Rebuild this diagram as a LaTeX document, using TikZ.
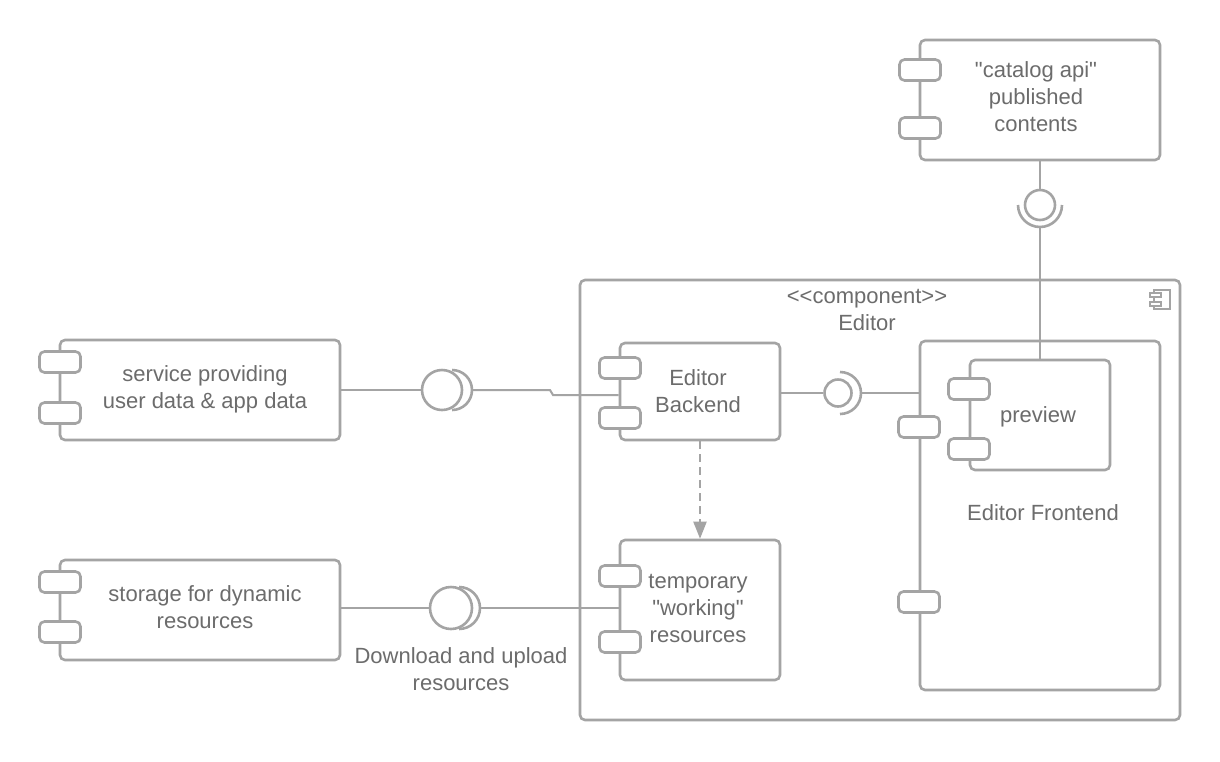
\documentclass[tikz,border=0pt]{standalone}
\usepackage{fontspec}
\setmainfont{Liberation Sans}[Ligatures=TeXOff]
\usetikzlibrary{arrows.meta}
\definecolor{lc}{RGB}{164,164,164}
\definecolor{tc}{RGB}{108,108,108}
\tikzset{
  comp/.style={draw=lc, line width=2.6pt, rounded corners=5pt, fill=white, inner sep=0pt},
  lug/.style={draw=lc, line width=2.6pt, rounded corners=5pt, fill=white, minimum width=41pt, minimum height=21pt, inner sep=0pt},
  txt/.style={text=tc, font=\fontsize{22pt}{27pt}\selectfont, align=center, inner sep=0pt},
  conn/.style={draw=lc, line width=2pt},
  ball/.style={circle, draw=lc, line width=2.6pt, fill=white, inner sep=0pt},
  sock/.style={draw=lc, line width=2.6pt},
}
\begin{document}
\begin{tikzpicture}[x=1pt,y=-1pt]
\useasboundingbox[fill=white] (0,0) rectangle (1220,761);

% Editor container
\node[comp, minimum width=600pt, minimum height=440pt] (ed) at (880,500) {};
\node[txt] (edt) at (867,310) {<<component>>\\Editor};
% component icon
\node[draw=lc, line width=1.2pt, minimum width=16pt, minimum height=19pt, inner sep=0pt] (ico) at (1162,299.5) {};
\node[draw=lc, line width=1.2pt, fill=white, minimum width=11pt, minimum height=4pt, inner sep=0pt] (icoa) at (1155.5,295) {};
\node[draw=lc, line width=1.2pt, fill=white, minimum width=11pt, minimum height=4pt, inner sep=0pt] (icob) at (1155.5,304) {};

% catalog
\node[comp, minimum width=240pt, minimum height=120pt] (cat) at (1040,100) {};
\node[lug] (catl1) at (920,70) {};
\node[lug] (catl2) at (920,128) {};
\node[txt] (catt) at (1036,97) {"catalog api"\\published\\contents};

% service
\node[comp, minimum width=280pt, minimum height=100pt] (svc) at (200,390) {};
\node[lug] (svcl1) at (60,362) {};
\node[lug] (svcl2) at (60,413) {};
\node[txt] (svct) at (205,389) {service providing\\user data \& app data};

% storage
\node[comp, minimum width=280pt, minimum height=100pt] (sto) at (200,610) {};
\node[lug] (stol1) at (60,582) {};
\node[lug] (stol2) at (60,632) {};
\node[txt] (stot) at (205,607) {storage for dynamic\\resources};

% Editor Backend
\node[comp, minimum width=160pt, minimum height=97pt] (be) at (700,391.5) {};
\node[lug] (bel1) at (620,368) {};
\node[lug] (bel2) at (620,418) {};
\node[txt] (bet) at (698,391) {Editor\\Backend};

% temporary
\node[comp, minimum width=160pt, minimum height=140pt] (tmp) at (700,610) {};
\node[lug] (tmpl1) at (620,576) {};
\node[lug] (tmpl2) at (620,642) {};
\node[txt] (tmpt) at (698,608) {temporary\\"working"\\resources};

% Editor Frontend
\node[comp, minimum width=240pt, minimum height=349pt] (fe) at (1040,515.5) {};
\node[lug] (fel1) at (919,427) {};
\node[lug] (fel2) at (919,602) {};
\node[txt] (fet) at (1043,513) {Editor Frontend};

% preview
\node[comp, minimum width=140pt, minimum height=110pt] (pv) at (1040,415) {};
\node[lug] (pvl1) at (969,389) {};
\node[lug] (pvl2) at (969,449) {};
\node[txt] (pvt) at (1038,417) {preview};

% interface service -> backend
\node[ball, minimum size=40pt] (b1) at (442,390) {};
\draw[sock] (452,370) arc[start angle=90, end angle=-90, radius=20pt];
\coordinate (s1) at (472,390);
\coordinate (j1) at (553,395);
\draw[conn] (svc.east) -- (b1.west);
\draw[conn] (s1) -- (550,390) -- (j1) -- (j1 -| be.west);

% interface backend -> frontend
\node[ball, minimum size=27pt] (b2) at (838,393) {};
\draw[sock] (840,372) arc[start angle=90, end angle=-90, radius=21pt];
\coordinate (s2) at (861,393);
\draw[conn] (be.east |- b2) -- (b2.west);
\draw[conn] (s2) -- (s2 -| fe.west);

% interface catalog -> preview
\node[ball, minimum size=30pt] (b3) at (1040,205) {};
\draw[sock] (1018,205) arc[start angle=180, end angle=360, radius=22pt];
\coordinate (s3) at (1040,227);
\draw[conn] (cat.south) -- (b3.north);
\draw[conn] (s3) -- (pv.north);

% interface storage -> temporary
\node[ball, minimum size=42pt] (b4) at (451,608) {};
\draw[sock] (459,587) arc[start angle=90, end angle=-90, radius=21pt];
\coordinate (s4) at (480,608);
\draw[conn] (sto.east |- b4) -- (b4.west);
\draw[conn] (s4) -- (s4 -| tmp.west);
\node[txt] (dl) at (461,669) {Download and upload\\resources};

% dependency
\draw[conn, dash pattern=on 8pt off 5pt, -{Triangle[width=13pt, length=17pt]}, lc] (be.south) -- (tmp.north);
\end{tikzpicture}
\end{document}
